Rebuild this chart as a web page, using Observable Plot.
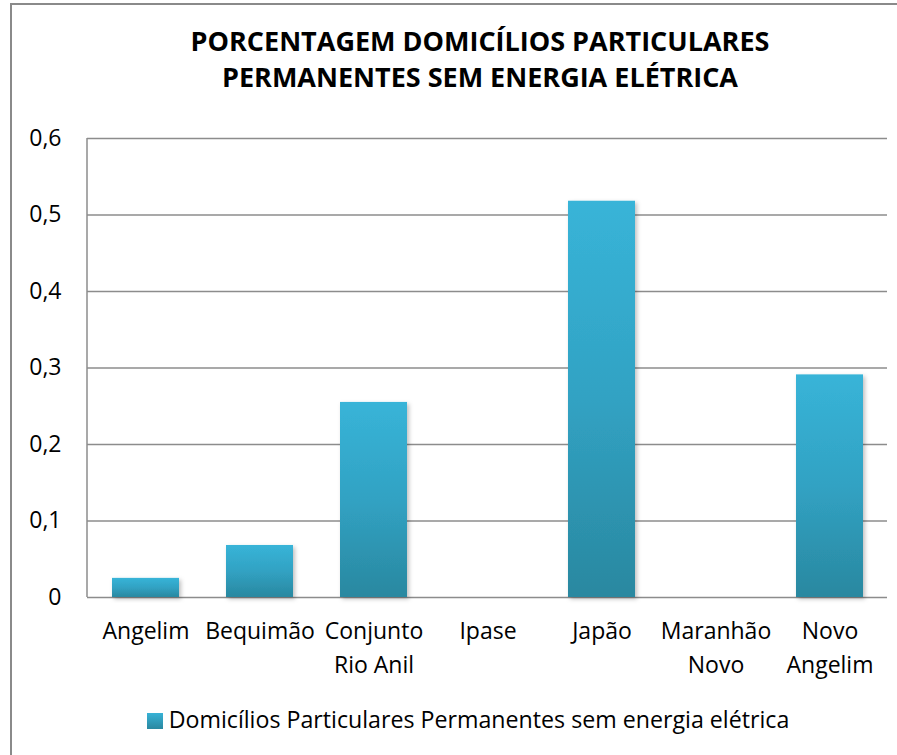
<!DOCTYPE html>
<html><head><meta charset="utf-8">
<script src="https://cdn.jsdelivr.net/npm/d3@7"></script>
<script src="https://cdn.jsdelivr.net/npm/@observablehq/plot@0.6"></script>
<style>
body{margin:0;background:#fff;width:897px;height:755px;overflow:hidden;position:relative;font-family:"Open Sans",sans-serif;color:#000;}
#border{position:absolute;left:10px;top:3px;width:920px;height:800px;border:2px solid #8a8a8a;}
#title{position:absolute;left:0;top:23px;width:960px;text-align:center;font-weight:bold;font-size:27px;line-height:36px;}
#chart{position:absolute;left:0;top:100px;}
#legend{position:absolute;left:0;top:703px;width:936px;text-align:center;font-size:23.2px;line-height:32px;white-space:nowrap;}
#legend .sw{display:inline-block;width:16px;height:16px;background:linear-gradient(#37b2d6,#2a88a0);vertical-align:-1px;margin-right:6px;}
</style></head>
<body>
<div id="border"></div>
<div id="title">PORCENTAGEM DOMICÍLIOS PARTICULARES<br>PERMANENTES SEM ENERGIA ELÉTRICA</div>
<div id="chart"></div>
<div id="legend"><span class="sw"></span>Domicílios Particulares Permanentes sem energia elétrica</div>
<script>
const categories = ["Angelim", "Bequimão", "Conjunto\nRio Anil", "Ipase", "Japão", "Maranhão\nNovo", "Novo\nAngelim"];
const values = [0.025, 0.068, 0.255, 0, 0.518, 0, 0.291];
const yTicks = [0, 0.1, 0.2, 0.3, 0.4, 0.5, 0.6];
const yTickLabels = ["0", "0,1", "0,2", "0,3", "0,4", "0,5", "0,6"];

const data = categories.map((c, i) => ({cat: c, value: values[i]}));

const plot = Plot.plot({
  width: 897, height: 605,
  marginLeft: 87, marginRight: 10, marginTop: 38, marginBottom: 108,
  style: {fontFamily: "'Open Sans', sans-serif", color: "#000", background: "transparent", overflow: "visible"},
  x: {domain: categories, paddingInner: 0.414, paddingOuter: 0.207, label: null, axis: null},
  y: {domain: [0, 0.6], label: null, axis: null},
  marks: [
    Plot.ruleY(yTicks, {stroke: "#8c8c8c", strokeWidth: 1.5}),
    Plot.barY(data, {x: "cat", y: "value", fill: "url(#barGrad)", filter: d => d.value > 0}),
    Plot.axisY(yTicks, {tickSize: 0, tickPadding: 26, tickFormat: (d) => yTickLabels[yTicks.indexOf(d)], fontSize: 23, fill: "#000"}),
    Plot.axisX({tickSize: 0, tickPadding: 18, fontSize: 23, lineHeight: 1.45, fill: "#000"})
  ]
});
document.getElementById("chart").appendChild(plot);

const svg = d3.select(plot);
const defs = svg.insert("defs", ":first-child");
const g = defs.append("linearGradient").attr("id", "barGrad").attr("x1", 0).attr("y1", 0).attr("x2", 0).attr("y2", 1);
g.append("stop").attr("offset", "0%").attr("stop-color", "#38b4d8");
g.append("stop").attr("offset", "50%").attr("stop-color", "#31a2c3");
g.append("stop").attr("offset", "100%").attr("stop-color", "#2a88a0");
const f = defs.append("filter").attr("id", "shadow").attr("x", "-20%").attr("y", "-20%").attr("width", "150%").attr("height", "150%");
f.append("feDropShadow").attr("dx", 2).attr("dy", 2).attr("stdDeviation", 2).attr("flood-color", "#000").attr("flood-opacity", 0.25);
svg.selectAll("rect").filter(function(){ return this.getAttribute("fill") === "url(#barGrad)" || (this.parentNode && this.parentNode.getAttribute("fill") === "url(#barGrad)"); }).attr("filter", "url(#shadow)");

const y = plot.scale("y");
svg.append("line").attr("x1", 87).attr("x2", 87).attr("y1", y.apply(0.6)).attr("y2", y.apply(0)).attr("stroke", "#8c8c8c").attr("stroke-width", 1.5);
</script>
</body></html>
